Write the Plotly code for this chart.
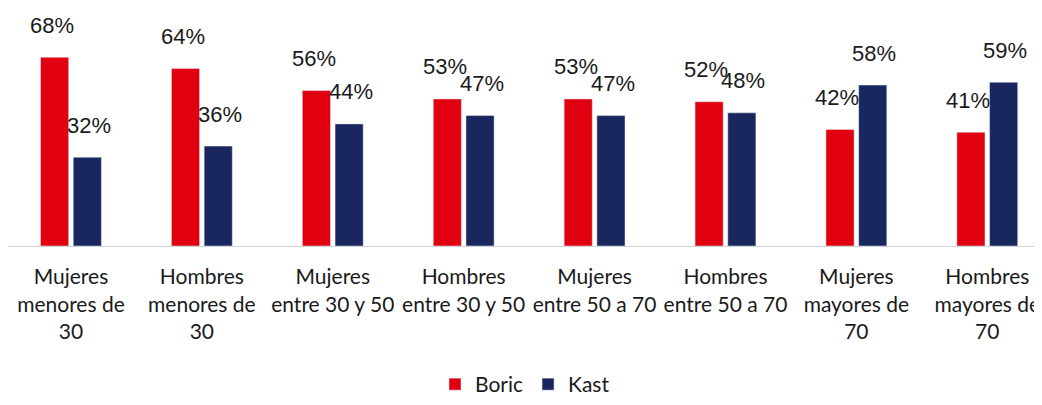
import plotly.graph_objects as go

categorias = [
    "Mujeres<br>menores de<br>30",
    "Hombres<br>menores de<br>30",
    "Mujeres<br>entre 30 y 50",
    "Hombres<br>entre 30 y 50",
    "Mujeres<br>entre 50 a 70",
    "Hombres<br>entre 50 a 70",
    "Mujeres<br>mayores de<br>70",
    "Hombres<br>mayores de<br>70",
]
boric = [68, 64, 56, 53, 53, 52, 42, 41]
kast = [32, 36, 44, 47, 47, 48, 58, 59]

ROJO = "#E0000F"
AZUL = "#19275E"

fig = go.Figure()
fig.add_trace(go.Bar(x=categorias, y=boric, name="Boric", marker_color=ROJO))
fig.add_trace(go.Bar(x=categorias, y=kast, name="Kast", marker_color=AZUL))

# etiquetas de % flotando por encima de cada barra
for cat, b, k in zip(categorias, boric, kast):
    fig.add_annotation(x=cat, y=b, text=f"{b}%", showarrow=False,
                       xshift=-19, yshift=32, font=dict(size=22, color="#1a1a1a"))
    fig.add_annotation(x=cat, y=k, text=f"{k}%", showarrow=False,
                       xshift=18, yshift=32, font=dict(size=22, color="#1a1a1a"))

# la página tiene ~8px de margen, se descuenta del tamaño
fig.update_layout(
    width=1034, height=397,
    margin=dict(l=0, r=0, t=16, b=153),
    plot_bgcolor="white", paper_bgcolor="white",
    barmode="group", bargap=0.5, bargroupgap=0.14,
    font=dict(family="Liberation Sans, Arial, sans-serif", color="#1a1a1a"),
    showlegend=True,
    legend=dict(orientation="h", x=0.5, xanchor="center", y=-0.627, yanchor="middle",
                font=dict(family="Lato, sans-serif", size=21, color="#1a1a1a"),
                itemwidth=30, traceorder="normal"),
)
# el gráfico original queda recortado por la derecha
fig.update_xaxes(range=[-0.481, 7.418], showline=True, linecolor="#d0d4da", linewidth=1,
                 tickangle=0,
                 tickfont=dict(family="Lato, sans-serif", size=21, color="#1a1a1a"),
                 ticklabelstandoff=12, showgrid=False)
fig.update_yaxes(range=[0, 80], visible=False, showgrid=False)

fig.write_html("out.html")
